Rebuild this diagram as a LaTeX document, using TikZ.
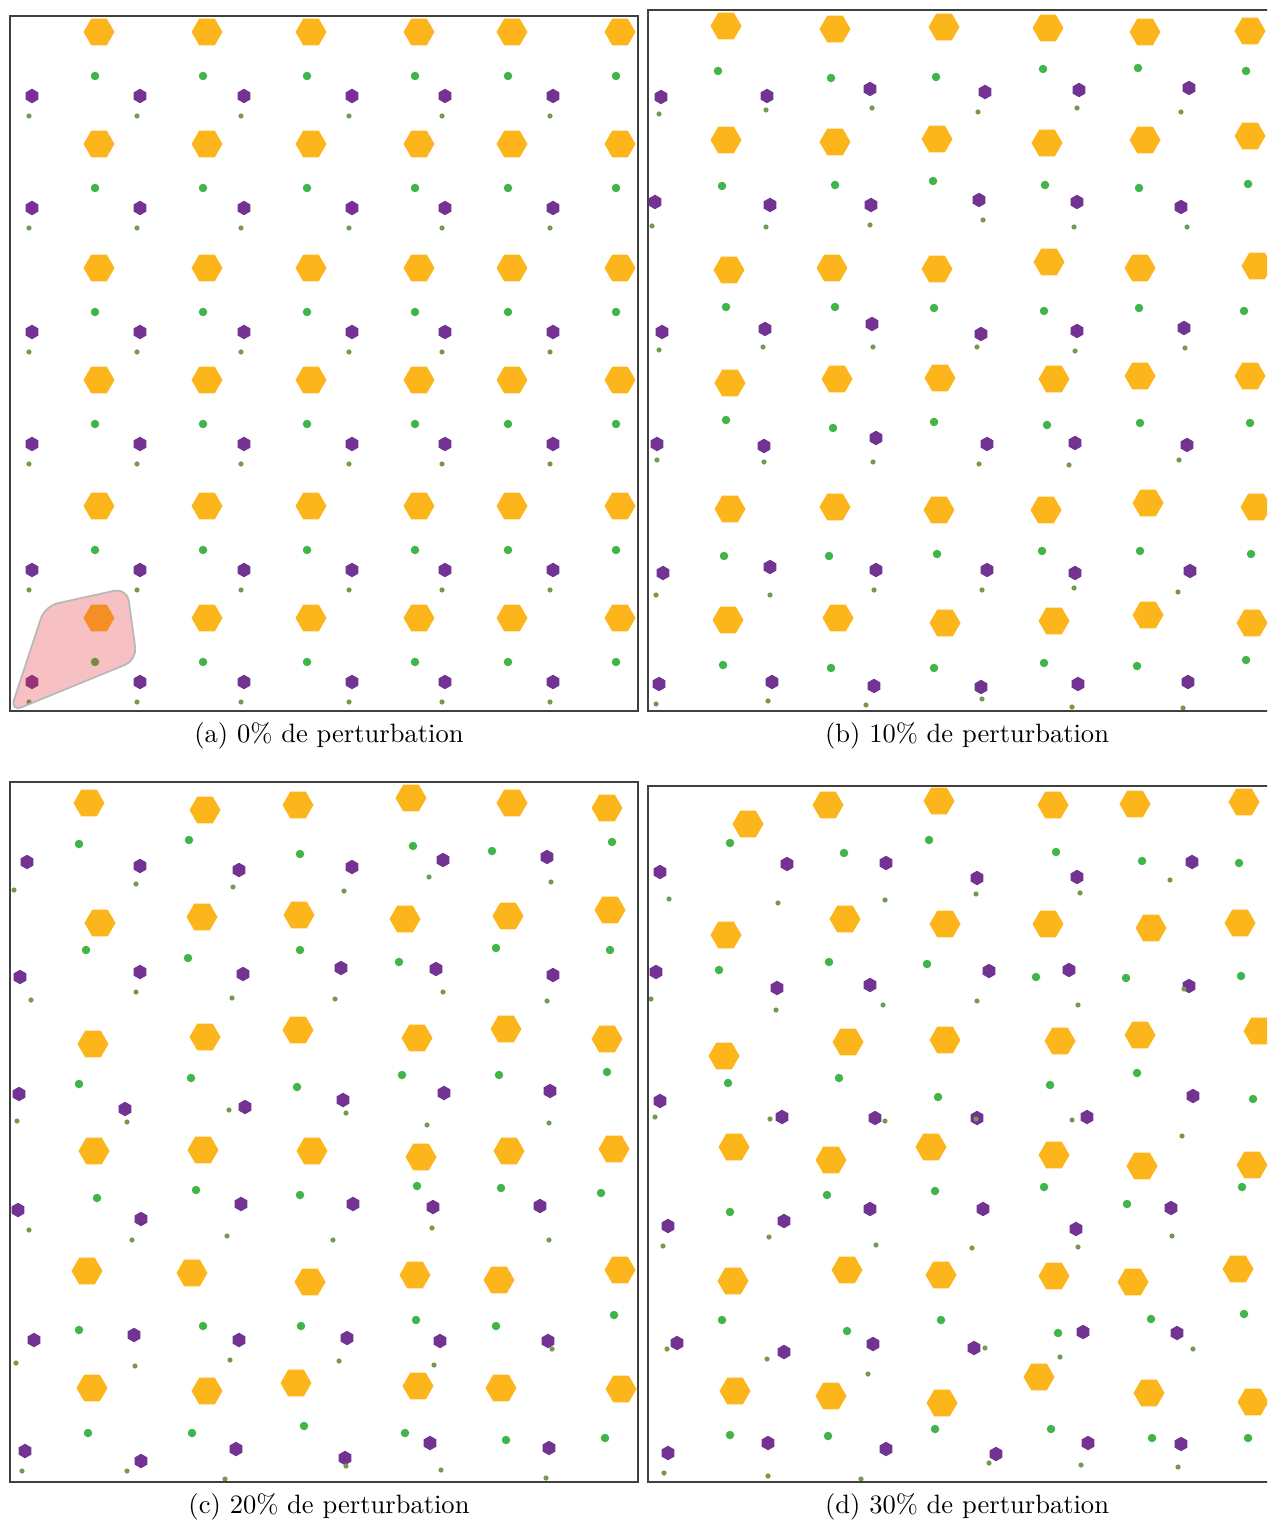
\documentclass[tikz,border=0pt]{standalone}
\usepackage{tikz}
\usetikzlibrary{shapes.geometric}

\definecolor{hexorange}{RGB}{252,182,28}
\definecolor{hexpurple}{RGB}{115,51,146}
\definecolor{dotgreen}{RGB}{64,181,74}
\definecolor{dotolive}{RGB}{116,154,76}
\definecolor{blobred}{RGB}{230,50,60}

\begin{document}
\begin{tikzpicture}[x=0.1mm,y=-0.1mm,
    bigcell/.style={regular polygon, regular polygon sides=6, fill=hexorange, minimum size=3.1mm, inner sep=0pt},
    smallcell/.style={regular polygon, regular polygon sides=6, shape border rotate=30, fill=hexpurple, minimum size=1.45mm, inner sep=0pt},
    dotbig/.style={circle, fill=dotgreen, minimum size=0.85mm, inner sep=0pt},
    dotsmall/.style={circle, fill=dotolive, minimum size=0.52mm, inner sep=0pt},
    frame/.style={draw=black!75, line width=0.35pt},
    caption/.style={font=\fontsize{10}{12}\selectfont}]
    \useasboundingbox (0,0) rectangle (1267,1524);
    \clip (0,0) rectangle (1267,1524);

    % (a) 0% de perturbation
    \foreach \cx [count=\i] in {99,207,311,419,512,620}
      \foreach \cy [count=\j] in {32,144,268,380,506,618} {
        \node[bigcell] (a-or-\i-\j) at (\cx,\cy) {};
        \node[dotbig] (a-gr-\i-\j) at (\cx-4,\cy+44) {};
        \node[smallcell] (a-pu-\i-\j) at (\cx-67,\cy+64) {};
        \node[dotsmall] (a-ol-\i-\j) at (\cx-70,\cy+84) {};
      }
    % zone marquee
    \fill[blobred, opacity=0.3, rounded corners=1.3mm] (10,712) -- (45,606) -- (127,588) -- (137,660) -- cycle;
    \draw[black!28, line width=0.5pt, rounded corners=1.3mm] (10,712) -- (45,606) -- (127,588) -- (137,660) -- cycle;
    \draw[frame] (10,16) rectangle (638,711);
    \node[caption] (capa) at (329,736) {\scalebox{0.755}{(a) 0\% de perturbation}};

    % (b) 10% de perturbation
    \foreach \x/\y [count=\k] in {726/26, 835/29, 944/27, 1048/28, 1145/32, 1250/31,
        726/140, 835/142, 937/139, 1047/143, 1145/140, 1250/136,
        729/270, 832/268, 937/269, 1049/262, 1140/268, 1257/266,
        730/383, 837/379, 940/378, 1054/379, 1140/376, 1250/376,
        730/509, 835/507, 939/510, 1046/510, 1148/503, 1256/507,
        728/620, 838/618, 945/623, 1054/621, 1148/615, 1252/623}
      \node[bigcell] (b-or-\k) at (\x,\y) {};
    \foreach \x/\y [count=\k] in {718/71, 831/78, 936/77, 1043/69, 1138/68, 1246/71,
        722/186, 835/185, 933/181, 1045/185, 1139/188, 1248/184,
        726/307, 835/307, 934/308, 1044/311, 1139/308, 1244/311,
        726/420, 833/428, 934/422, 1047/425, 1140/423, 1250/423,
        724/556, 829/556, 937/554, 1042/551, 1140/551, 1251/554,
        723/665, 831/668, 934/668, 1044/663, 1137/666, 1246/660}
      \node[dotbig] (b-gr-\k) at (\x,\y) {};
    \foreach \x/\y [count=\k] in {661/97, 767/96, 870/89, 985/92, 1079/90, 1189/88,
        655/202, 770/205, 871/205, 979/200, 1077/202, 1181/207,
        662/332, 765/329, 872/324, 981/334, 1077/331, 1184/328,
        657/444, 764/446, 876/438, 987/444, 1075/443, 1187/445,
        663/573, 770/567, 876/570, 987/570, 1075/573, 1190/571,
        659/684, 772/682, 874/686, 981/687, 1078/684, 1188/682}
      \node[smallcell] (b-pu-\k) at (\x,\y) {};
    \foreach \x/\y [count=\k] in {659/114, 766/110, 872/108, 978/112, 1077/108, 1181/112,
        652/226, 766/227, 870/225, 983/220, 1074/227, 1187/227,
        659/350, 763/347, 873/347, 977/347, 1075/351, 1185/348,
        657/460, 764/462, 873/462, 979/464, 1069/465, 1179/460,
        656/595, 770/595, 874/590, 982/590, 1074/588, 1178/592,
        656/704, 768/701, 866/705, 982/699, 1072/707, 1183/708}
      \node[dotsmall] (b-ol-\k) at (\x,\y) {};
    \draw[frame] (648,10) rectangle (1290,711);
    \node[caption] (capb) at (967,736) {\scalebox{0.755}{(b) 10\% de perturbation}};

    % (c) 20% de perturbation
    \foreach \x/\y [count=\k] in {89/803, 205/810, 298/805, 411/798, 512/803, 607/808,
        100/923, 202/917, 299/915, 405/919, 508/916, 610/910,
        93/1044, 205/1037, 298/1030, 417/1038, 506/1029, 607/1039,
        94/1151, 203/1150, 312/1151, 421/1157, 509/1151, 614/1149,
        87/1271, 192/1273, 310/1282, 415/1275, 499/1280, 620/1270,
        92/1388, 207/1391, 296/1383, 418/1386, 501/1388, 621/1389}
      \node[bigcell] (c-or-\k) at (\x,\y) {};
    \foreach \x/\y [count=\k] in {79/844, 189/840, 300/854, 413/846, 492/851, 612/842,
        86/950, 188/958, 300/950, 399/962, 496/948, 610/950,
        79/1084, 191/1078, 297/1087, 402/1075, 499/1075, 607/1072,
        97/1198, 196/1190, 300/1195, 417/1186, 501/1188, 601/1193,
        79/1330, 203/1326, 301/1326, 416/1320, 496/1326, 614/1315,
        88/1433, 192/1433, 304/1426, 405/1433, 506/1440, 605/1438}
      \node[dotbig] (c-gr-\k) at (\x,\y) {};
    \foreach \x/\y [count=\k] in {27/862, 140/866, 239/870, 352/867, 443/860, 547/857,
        20/977, 140/972, 243/974, 341/968, 436/969, 553/975,
        19/1094, 125/1109, 245/1107, 343/1100, 444/1093, 550/1091,
        18/1210, 141/1219, 241/1204, 353/1204, 433/1207, 540/1206,
        34/1340, 134/1335, 239/1340, 347/1338, 440/1341, 548/1341,
        25/1451, 141/1461, 236/1449, 345/1458, 430/1443, 549/1448}
      \node[smallcell] (c-pu-\k) at (\x,\y) {};
    \foreach \x/\y [count=\k] in {14/890, 136/884, 233/887, 344/891, 429/877, 551/882,
        31/1000, 136/992, 232/998, 335/999, 443/992, 547/1001,
        17/1121, 127/1122, 229/1110, 346/1113, 427/1125, 549/1123,
        29/1230, 132/1240, 227/1236, 333/1240, 432/1228, 549/1240,
        16/1363, 135/1366, 230/1360, 339/1361, 434/1365, 552/1349,
        22/1471, 127/1471, 225/1479, 346/1466, 441/1470, 546/1478}
      \node[dotsmall] (c-ol-\k) at (\x,\y) {};
    \draw[frame] (10,782) rectangle (638,1482);
    \node[caption] (capc) at (329,1507) {\scalebox{0.755}{(c) 20\% de perturbation}};

    % (d) 30% de perturbation
    \foreach \x/\y [count=\k] in {748/824, 828/805, 939/801, 1053/805, 1135/804, 1244/802,
        726/935, 845/919, 945/924, 1048/924, 1151/928, 1240/923,
        724/1056, 848/1042, 945/1040, 1060/1041, 1140/1035, 1259/1031,
        734/1147, 831/1160, 931/1147, 1054/1155, 1142/1166, 1252/1165,
        733/1281, 847/1270, 941/1275, 1054/1276, 1133/1282, 1238/1269,
        735/1391, 831/1396, 942/1403, 1039/1377, 1149/1393, 1253/1402}
      \node[bigcell] (d-or-\k) at (\x,\y) {};
    \foreach \x/\y [count=\k] in {730/843, 844/853, 929/840, 1056/852, 1142/861, 1239/863,
        719/970, 829/962, 927/964, 1036/977, 1126/978, 1241/976,
        728/1083, 839/1078, 938/1097, 1050/1085, 1137/1073, 1253/1099,
        730/1212, 827/1195, 935/1191, 1044/1187, 1127/1204, 1242/1187,
        722/1320, 847/1331, 941/1320, 1058/1333, 1151/1319, 1244/1314,
        730/1435, 828/1436, 935/1429, 1051/1429, 1152/1438, 1248/1438}
      \node[dotbig] (d-gr-\k) at (\x,\y) {};
    \foreach \x/\y [count=\k] in {660/872, 787/864, 886/863, 977/878, 1077/877, 1192/862,
        656/972, 777/988, 870/985, 989/971, 1069/970, 1189/986,
        660/1101, 782/1117, 875/1118, 977/1118, 1087/1117, 1193/1096,
        668/1226, 784/1221, 870/1209, 983/1209, 1076/1229, 1171/1208,
        677/1343, 784/1352, 873/1344, 974/1348, 1083/1332, 1177/1333,
        668/1453, 768/1443, 886/1449, 996/1454, 1088/1443, 1181/1444}
      \node[smallcell] (d-pu-\k) at (\x,\y) {};
    \foreach \x/\y [count=\k] in {669/899, 778/903, 885/900, 976/894, 1080/893, 1170/880,
        651/999, 776/1010, 883/1005, 977/1001, 1078/1005, 1184/989,
        655/1117, 770/1119, 885/1121, 976/1119, 1072/1120, 1182/1136,
        663/1246, 769/1237, 876/1245, 972/1248, 1078/1247, 1172/1236,
        667/1349, 767/1359, 868/1374, 985/1348, 1060/1357, 1193/1349,
        664/1473, 768/1476, 861/1479, 989/1463, 1081/1465, 1178/1467}
      \node[dotsmall] (d-ol-\k) at (\x,\y) {};
    \draw[frame] (648,786) rectangle (1290,1482);
    \node[caption] (capd) at (967,1507) {\scalebox{0.755}{(d) 30\% de perturbation}};
\end{tikzpicture}
\end{document}
